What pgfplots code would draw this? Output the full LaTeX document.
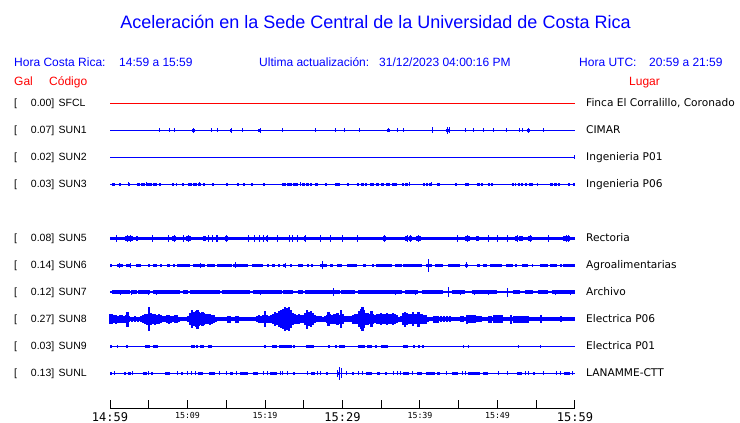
\documentclass[border=0pt]{standalone}
\usepackage{pgfplots}
\pgfplotsset{compat=1.18}
\usepackage{fontspec}
\setmainfont{Liberation Sans}
\newfontfamily\dejavu{DejaVu Sans}
\newfontfamily\dmono{DejaVu Sans Mono}
\definecolor{trc}{RGB}{0,0,255}
\definecolor{hdr}{RGB}{0,0,255}
\definecolor{rd}{RGB}{255,0,0}
\pgfplotsset{
  spk/.style={draw=none, mark=none, forget plot,
    error bars/.cd, y dir=both, y explicit, error mark=none,
    error bar style={draw=trc, solid, line width=#1}},
  spk/.default=1pt,
  blk/.style={draw=none, mark=none, forget plot,
    error bars/.cd, x dir=both, x explicit, error mark=none,
    error bar style={draw=trc, solid, line width=#1}},
}
\newcommand{\lab}[4]{%
  \node[anchor=base west, inner sep=0pt, yshift=-3.8pt, font=\fontsize{10.5}{12}\selectfont] at (axis cs:14,#1) {[};
  \node[anchor=base east, inner sep=0pt, yshift=-3.8pt, font=\fontsize{10.5}{12}\selectfont] at (axis cs:54.5,#1) {#2]};
  \node[anchor=base west, inner sep=0pt, yshift=-3.8pt, font=\fontsize{10.5}{12}\selectfont] at (axis cs:58.5,#1) {#3};
  \node[anchor=base west, inner sep=0pt, yshift=-3.7pt, font=\dejavu\fontsize{10.6}{12}\selectfont] at (axis cs:586,#1) {#4};
}
\begin{document}
\begin{tikzpicture}
\begin{axis}[name=main, at={(0,0)}, anchor=south west,
  width=740pt, height=423pt, scale only axis,
  xmin=0, xmax=740, ymin=0, ymax=423, y dir=reverse,
  hide axis, clip=false]

% ---- texts
\node[anchor=base, inner sep=0pt, text=hdr, font=\fontsize{18}{21}\selectfont] at (axis cs:375.5,28.5) {Aceleración en la Sede Central de la Universidad de Costa Rica};
\node[anchor=base west, inner sep=0pt, text=hdr, font=\fontsize{12}{14}\selectfont] at (axis cs:14,66) {Hora Costa Rica:};
\node[anchor=base west, inner sep=0pt, text=hdr, font=\fontsize{12}{14}\selectfont] at (axis cs:119,66) {14:59 a 15:59};
\node[anchor=base west, inner sep=0pt, text=hdr, font=\fontsize{12}{14}\selectfont] at (axis cs:259,66) {Ultima actualización:};
\node[anchor=base west, inner sep=0pt, text=hdr, font=\fontsize{12}{14}\selectfont] at (axis cs:379,66) {31/12/2023 04:00:16 PM};
\node[anchor=base west, inner sep=0pt, text=hdr, font=\fontsize{12}{14}\selectfont] at (axis cs:579,66) {Hora UTC:};
\node[anchor=base west, inner sep=0pt, text=hdr, font=\fontsize{12}{14}\selectfont] at (axis cs:649,66) {20:59 a 21:59};
\node[anchor=base west, inner sep=0pt, text=rd, font=\fontsize{12}{14}\selectfont] at (axis cs:14,85) {Gal};
\node[anchor=base west, inner sep=0pt, text=rd, font=\fontsize{12}{14}\selectfont] at (axis cs:49,85) {Código};
\node[anchor=base west, inner sep=0pt, text=rd, font=\fontsize{12}{14}\selectfont] at (axis cs:629,85) {Lugar};

\lab{103}{0.00}{SFCL}{Finca El Corralillo, Coronado}
\lab{130}{0.07}{SUN1}{CIMAR}
\lab{157}{0.02}{SUN2}{Ingenieria P01}
\lab{184}{0.03}{SUN3}{Ingenieria P06}
\lab{238}{0.08}{SUN5}{Rectoria}
\lab{265}{0.14}{SUN6}{Agroalimentarias}
\lab{292}{0.12}{SUN7}{Archivo}
\lab{319}{0.27}{SUN8}{Electrica P06}
\lab{346}{0.03}{SUN9}{Electrica P01}
\lab{373}{0.13}{SUNL}{LANAMME-CTT}

% ---- SFCL
\addplot[rd, line width=1pt, forget plot] coordinates {(110,103)(575,103)};

% ---- SUN1
\addplot[trc, line width=1pt, forget plot] coordinates {(110,130)(575,130)};
\addplot[spk] table[x index=0, y expr=130, y error index=1] {
x a
159 2
169 2
174 2
193 2.5
211 2
217 2
231 2.5
242 2
260 2.5
282 2
315 2
335 2
344 2
359 2
388 2
397 2
403 2
432 3
447 3.5
449 3
465 2
473 2
483 2
493 2
506 2
519 2
522 2
528 2.5
543 2
};
\addplot[blk=3pt] table[x expr={(\thisrowno{0}+\thisrowno{1})/2}, y expr=130, x error expr={(\thisrowno{1}-\thisrowno{0})/2}] {
a b
192 194.5
230 232
258 261
387 389.5
446 450
527 530
};

% ---- SUN2
\addplot[trc, line width=1pt, forget plot] coordinates {(110,157)(575,157)};
\addplot[spk] table[x index=0, y expr=157, y error index=1] {
x a
574.5 2
};

% ---- SUN3
\addplot[trc, line width=1pt, forget plot] coordinates {(110,184)(575,184)};
\addplot[blk=3pt] table[x expr={(\thisrowno{0}+\thisrowno{1})/2}, y expr=184, x error expr={(\thisrowno{1}-\thisrowno{0})/2}] {
a b
112 115
119 121
128 130
137 140
141 145
146 152
153 157
159 160
172 173
182 183
188 192
193 197
198 201
203 205
212 213
226 227
237 238
243 244
251 252
263 264
282 286
287 292
293 298
302 305
306 309
310 312
315 318
325 326
335 340
347 348
357 359
361 364
365 367
370 374
376 379
381 384
386 390
392 397
402 404
405 408
423 424
426 427
429 430
437 440
455 456
465 466
467 468
477 480
481 483
488 490
491 493
512 513
515 516
518 519
521 522
525 526
529 533
537 538
550 553
554 557
558 560
568 569
573 575
};
\addplot[spk] table[x index=0, y expr=184, y error index=1] {
x a
128 2
146 2
176 1.5
199 2
300 2
409 2
431 2
};

% ---- SUN5
\addplot[trc, line width=3.5pt, forget plot] coordinates {(110,238.5)(575,238.5)};
\addplot[blk=5.5pt] table[x expr={(\thisrowno{0}+\thisrowno{1})/2}, y expr=238.5, x error expr={(\thisrowno{1}-\thisrowno{0})/2}] {
a b
125 133
136 138
172 176
186 191
203 206
225 228
266 268
304 306
383 386
405 408
409 412
416 421
465 470
476 479
515 518
519 523
528 532
563 570
};
\addplot[spk] table[x index=0, y expr=238.5, y error index=1] {
x a
116 3.3
127 3.5
130 3.3
152 3.3
168 3.3
174 3.3
183 3.3
188 3.3
208 3.3
212 3.3
216 3.3
217 3.3
226 3.5
248 3.3
254 3.3
259 3.3
263 3.3
267 3.3
277 3.3
289 3.3
292 3.3
297 3.3
305 3.3
320 3.3
330 3.3
342 3.3
357 3.3
384 3.5
407 3.3
410 3.3
418 3.5
457 3.3
467 3.3
488 3.3
497 3.3
507 3.3
517 3.3
530 3.3
548 3.3
566 3.8
568 3.3
};

% ---- SUN6
\addplot[trc, line width=1.3pt, forget plot] coordinates {(110,265.3)(575,265.3)};
\addplot[blk=3.5pt] table[x expr={(\thisrowno{0}+\thisrowno{1})/2}, y expr=265.3, x error expr={(\thisrowno{1}-\thisrowno{0})/2}] {
a b
110 112
117 123
126 131
136 141
148 150
153 157
160 162
167 170
173 174
177 190
193 205
207 215
217 232
233 248
252 263
267 268
272 275
278 280
283 284
290 291
298 303
307 308
311 312
320 327
330 333
337 342
347 357
363 366
372 373
376 392
395 402
403 422
426 432
435 443
448 460
465 468
477 480
483 487
490 502
506 513
515 517
522 528
532 533
540 548
550 557
560 562
563 575
};
\addplot[spk] table[x index=0, y expr=265.3, y error index=1] {
x a
119 2.5
130 2.5
200 2.5
235 3
285 2.5
322 4
428 6.5
466 3
};

% ---- SUN7
\addplot[trc, line width=1.3pt, forget plot] coordinates {(110,292)(575,292)};
\addplot[blk=3.3pt] table[x expr={(\thisrowno{0}+\thisrowno{1})/2}, y expr=292, x error expr={(\thisrowno{1}-\thisrowno{0})/2}] {
a b
112 130
132 137
138 150
153 180
183 188
190 220
222 250
253 282
283 293
298 303
305 340
341 355
358 402
405 418
422 443
452 465
472 497
513 520
525 533
538 548
552 575
};
\addplot[spk] table[x index=0, y expr=292, y error index=1] {
x a
120 2.5
131 2.5
148 2.5
156 2.5
195 2
260 2.5
333 4
395 2.5
415 2.5
448 5.3
460 2.5
474 2.5
488 2.5
507 4.5
555 2.5
570 2.5
};

% ---- SUN8
\addplot[trc, line width=3.8pt, forget plot] coordinates {(110,319)(575,319)};
\addplot[spk=2.2pt] table[x index=0, y expr=319, y error index=1] {
x a
110 5
112 5
114 4
116 4.5
118 3.5
120 4
122 4
124 3.5
126 4
127.5 7.5
129 3
132 2.5
135 3
138 2.5
141 3
143 4
145 5
147 5.5
149 12
151 6
153 5
155 5.5
157 4.5
159 5
161 4
163 3
165 3
167 4
169 4.5
171 3.5
173 3
175 4
177 4
179 2.5
188 3
190 6
192 9
194 7
196 8
197.5 9.5
199 7
201 6
202.5 7
204 6
206 5
208 5
210 5.5
212 4.5
214 4
216 2.5
228 3.5
230 3.5
236 3.5
238 3.5
257 3
259 4
261 3.5
263 4
265 8
267 4
269 3.5
271 4
273 5
275 7
277 6
279 8
281 9
283 10
285 12
287 11
289 12
291 9
293 6
295 5
297 4.5
299 5
301 4
303 4
305 6
307 9.5
309 7
311 8
313 6
315 4
317 3
319 3
321 3
323 2.5
325 3
327 4
328.5 7
330 5
332 4.5
334 5
336 5
337.5 6
339 4.5
341 9
343 5
345 3
347 3
349 3
351 3
353 4.5
355 5
357 5
359 8
361 10
362.5 12
364 9
366 6
368 6
370 5
371.5 8
373 5
375 4
377 5
379 5
381 6
383 5
385 5
387 6
389 5
391 5
393 6
395 5
397 4
399 2.5
401 3
403 6
405 7.5
407 6
409 5
411 5
413 7
415 5
417 5
418.5 7.5
420 5
422 5
424 4.5
426 4.5
428 2.5
434 3.5
436 3.5
438 3.5
441 3
444 3
447 3
450 3
461 3
463 3
467 4.5
469 4
471 4
473 4
475 4
477 3
479 3
481 3
489 3.5
491 3.5
494 4
496 4
498 4
500 4
502 4
511 4.5
514 3.5
516 3.5
518 3.5
520 3.5
522 3.5
524 3.5
526 3.5
528 3.5
541 4
561 3
};

% ---- SUN9
\addplot[trc, line width=1pt, forget plot] coordinates {(110,346.3)(575,346.3)};
\addplot[blk=3.3pt] table[x expr={(\thisrowno{0}+\thisrowno{1})/2}, y expr=346.3, x error expr={(\thisrowno{1}-\thisrowno{0})/2}] {
a b
110 112
126 128
145 150
153 158
191 195
196 197
200 204
208 212
264 266
272 273
274 277
279 292
293 295
306 314
328 330
335 336
339 345
358 365
367 372
375 376
381 388
403 408
413 414
418 419
422 423
};
\addplot[spk] table[x index=0, y expr=346.3, y error index=1] {
x a
117 1.5
463 1.5
468 1.5
518 1.5
540 1.5
};

% ---- SUNL
\addplot[trc, line width=1pt, forget plot] coordinates {(110,373.3)(575,373.3)};
\addplot[blk=3.3pt] table[x expr={(\thisrowno{0}+\thisrowno{1})/2}, y expr=373.3, x error expr={(\thisrowno{1}-\thisrowno{0})/2}] {
a b
110 112
124 126
128 131
143 147
151 153
165 170
181 183
198 203
209 215
230 233
240 248
253 258
270 277
293 295
311 315
326 328
337 340
352 354
366 372
377 380
385 387
403 409
417 422
426 435
437 440
452 458
468 480
483 488
517 522
533 535
564 570
};
\addplot[spk] table[x index=0, y expr=373.3, y error index=1] {
x a
114 2
132 2
148 2
177 2
187 2
191 2
195 2
219 2
226 2
236 2
263 2
267 2
280 2
282 2
287 2
307 2
317 2
320 2
337 3.5
339 6.7
341 5
346 2
358 2
362 2
393 2
397 2
400 2
412 2
446 2
462 2
465 2
498 2
507 2
525 2
528 2
543 2
556 2
560 2
572 2
};
\end{axis}

% ---- time axis
\begin{axis}[at={(110pt,14pt)}, anchor=south west,
  width=465pt, height=20pt, scale only axis,
  xmin=0, xmax=60, ymin=0, ymax=1,
  axis x line=bottom, axis y line=none,
  x axis line style={-, line width=1pt, black},
  xtick={0,5,...,60}, tick align=inside, major tick length=9pt,
  tick style={line width=1pt, black},
  xticklabels={{\fontsize{12}{14}\selectfont 14:59},{},{\fontsize{8.3}{10}\selectfont 15:09},{},{\fontsize{8.3}{10}\selectfont 15:19},{},{\fontsize{12}{14}\selectfont 15:29},{},{\fontsize{8.3}{10}\selectfont 15:39},{},{\fontsize{8.3}{10}\selectfont 15:49},{},{\fontsize{12}{14}\selectfont 15:59}},
  xticklabel style={inner sep=0pt, anchor=north, yshift=-3pt, font=\dmono},
]
\end{axis}
\pgfresetboundingbox
\path (main.south west) rectangle (main.north east);
\end{tikzpicture}
\end{document}
